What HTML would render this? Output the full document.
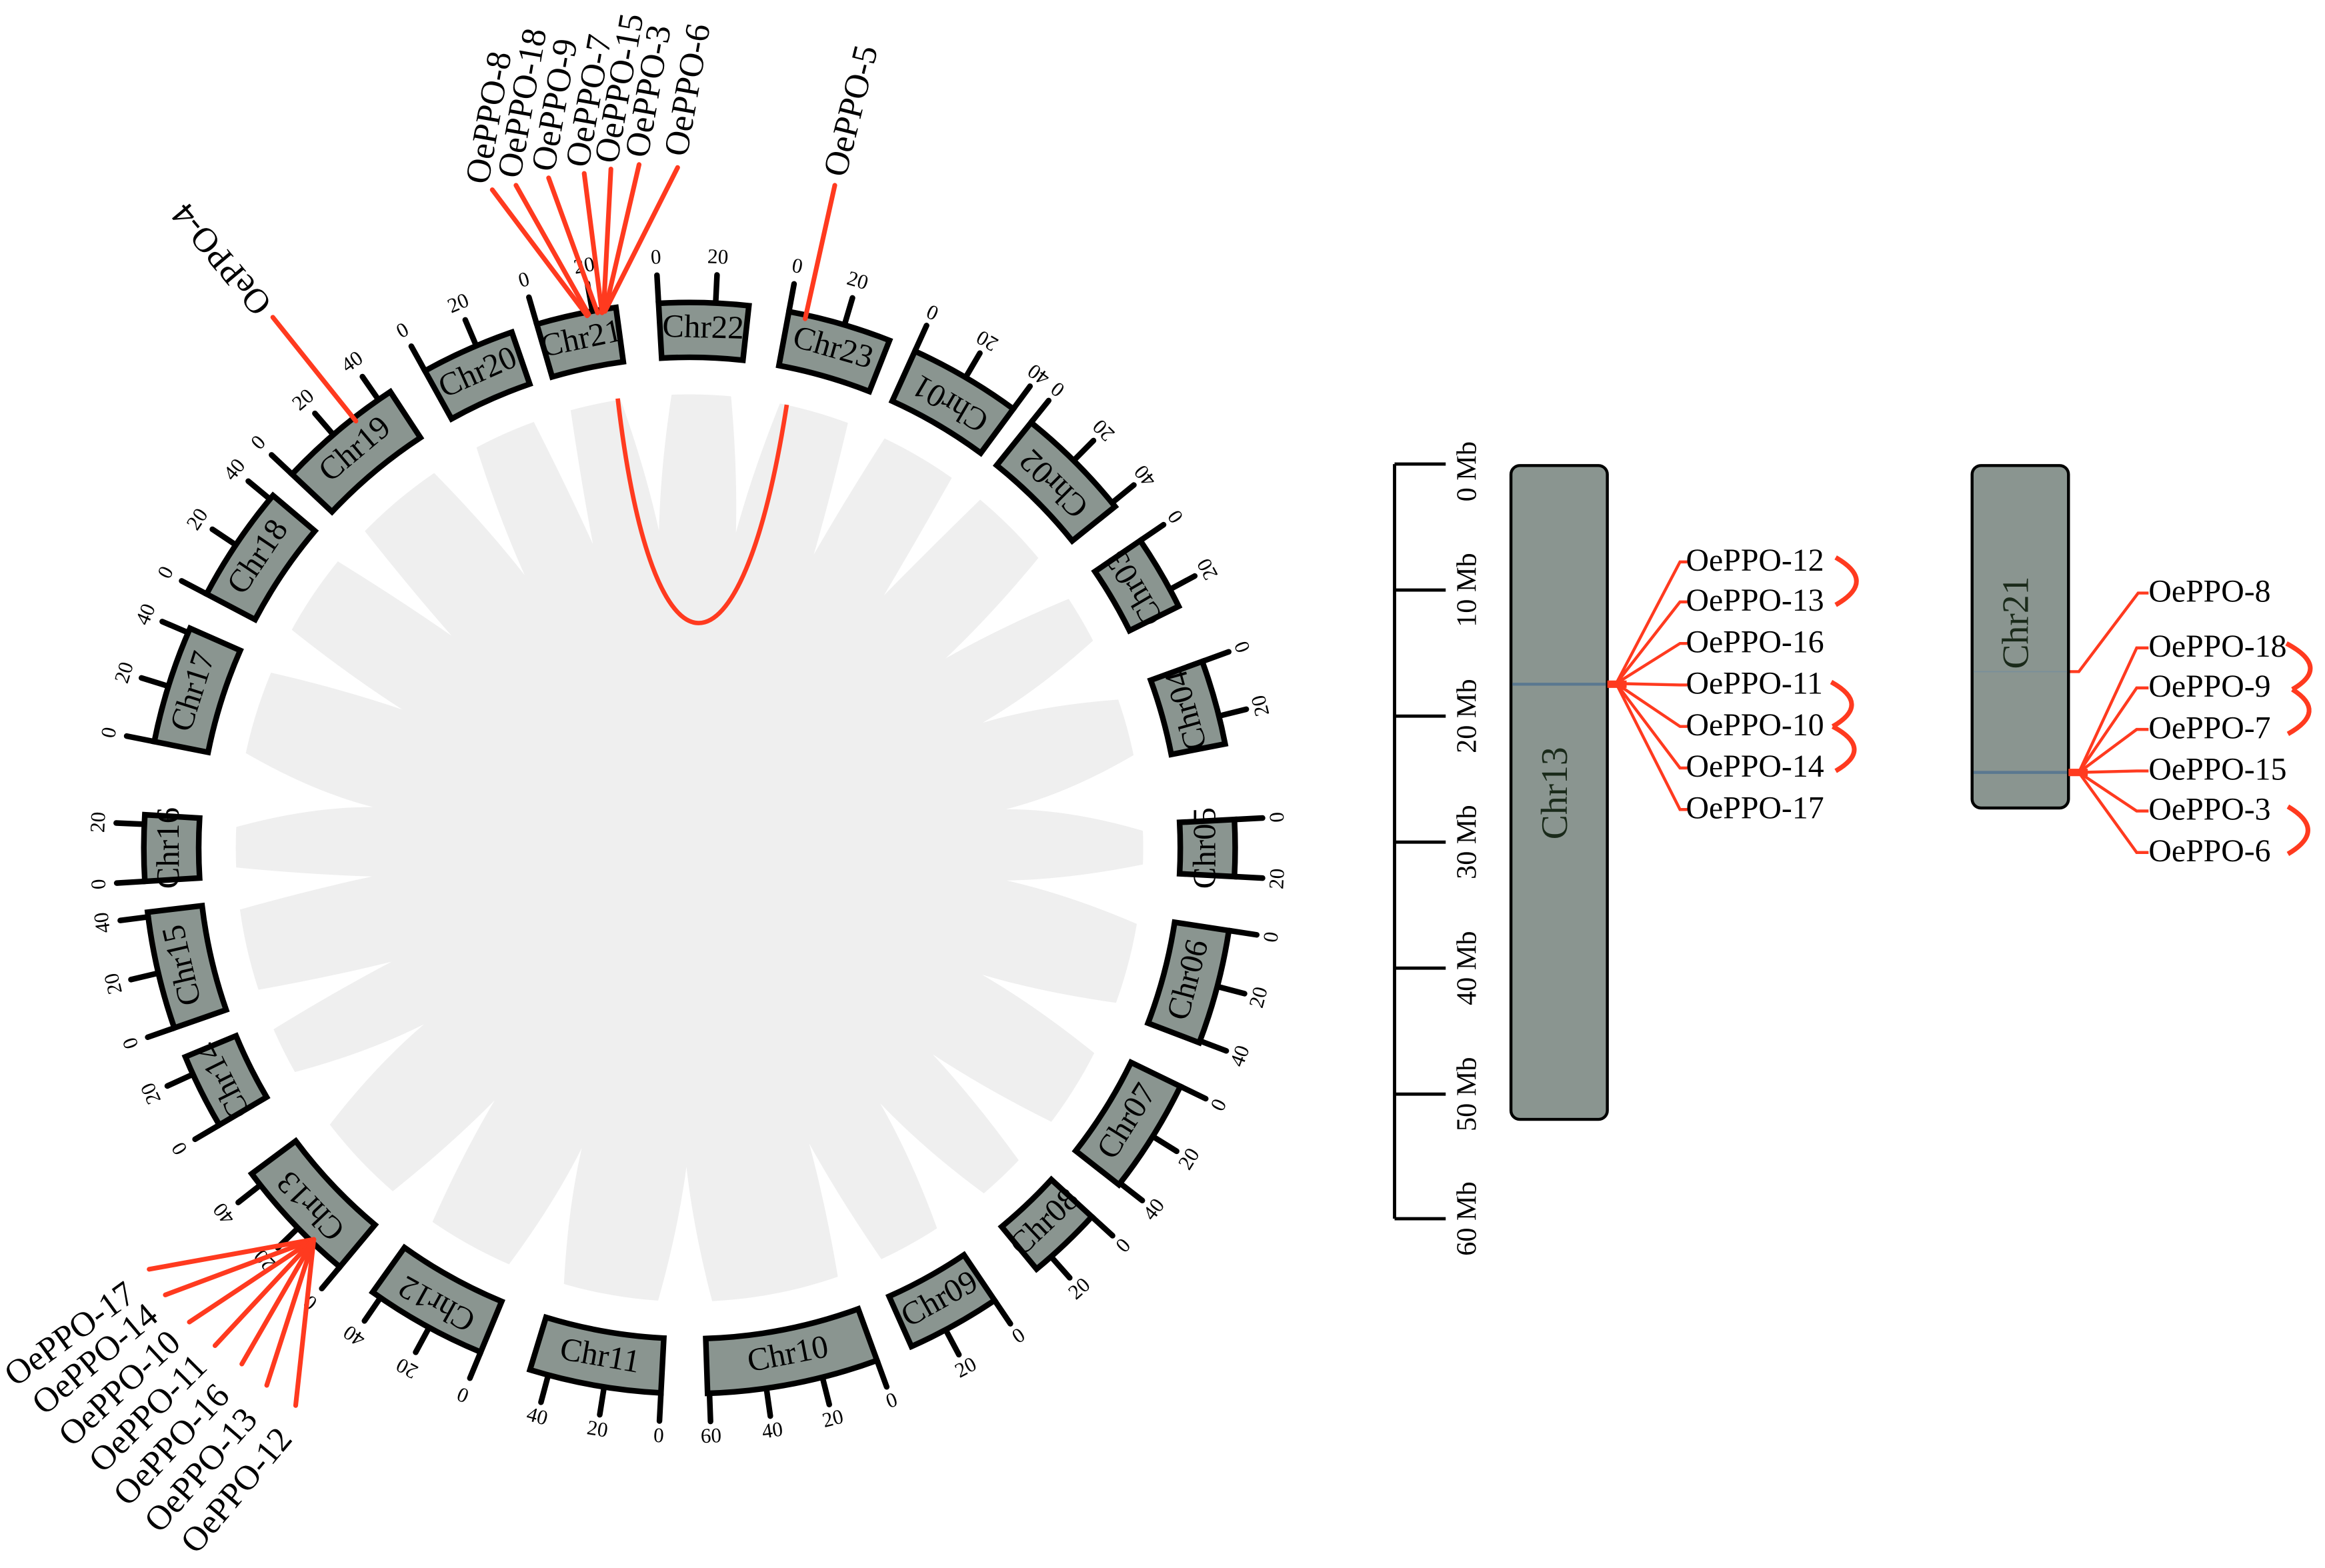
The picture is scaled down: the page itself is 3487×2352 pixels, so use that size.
<!DOCTYPE html>
<html><head><meta charset="utf-8"><style>
html,body{margin:0;padding:0;background:#fff;}
svg{display:block;}
text{font-family:"Liberation Serif",serif;}
</style></head><body>
<svg id="s" xmlns="http://www.w3.org/2000/svg" width="3487" height="2352" viewBox="0 0 1568 1057.6" preserveAspectRatio="none">
<rect x="0" y="0" width="1568" height="1057.6" fill="#fff"/>
<g id="circ"></g>
<path d="M416.6,268.8 C440,470 500,470 530.6,273" fill="none" stroke="#ff3a1f" stroke-width="3"/>
<g id="genes"></g>

<g stroke="#000" stroke-width="2.2" fill="none">
<line x1="940.5" y1="313" x2="940.5" y2="822"/>
<line x1="940.5" y1="313" x2="975" y2="313"/>
<line x1="940.5" y1="398" x2="975" y2="398"/>
<line x1="940.5" y1="483" x2="975" y2="483"/>
<line x1="940.5" y1="568" x2="975" y2="568"/>
<line x1="940.5" y1="653" x2="975" y2="653"/>
<line x1="940.5" y1="738" x2="975" y2="738"/>
<line x1="940.5" y1="822" x2="975" y2="822"/>
</g>
<g font-size="19" text-anchor="middle" dominant-baseline="middle">
<text transform="translate(991,318) rotate(-90)">0 Mb</text>
<text transform="translate(991,398) rotate(-90)">10 Mb</text>
<text transform="translate(991,483) rotate(-90)">20 Mb</text>
<text transform="translate(991,568) rotate(-90)">30 Mb</text>
<text transform="translate(991,653) rotate(-90)">40 Mb</text>
<text transform="translate(991,738) rotate(-90)">50 Mb</text>
<text transform="translate(991,822) rotate(-90)">60 Mb</text>
</g>

<rect x="1019" y="314" width="65" height="441" rx="6" fill="#8a9590" stroke="#000" stroke-width="2"/>
<line x1="1020" y1="461.5" x2="1083" y2="461.5" stroke="#5a7890" stroke-width="2"/>
<text transform="translate(1051,535) rotate(-90)" font-size="25" text-anchor="middle" dominant-baseline="middle" fill="#1a2a1a">Chr13</text>
<g stroke="#ff3a1f" stroke-width="2" fill="none">
<line x1="1084" y1="461.5" x2="1097" y2="461.5" stroke-width="5"/>
<polyline points="1090,461 1133,379 1138,379"/>
<polyline points="1090,461 1133,406 1138,406"/>
<polyline points="1090,461 1133,434 1138,434"/>
<polyline points="1090,461 1133,462 1138,462"/>
<polyline points="1090,461 1133,490 1138,490"/>
<polyline points="1090,461 1133,518 1138,518"/>
<polyline points="1090,461 1133,546 1138,546"/>
<g stroke-width="3.2">
<path d="M1238,376 Q1266,392 1238,408"/>
<path d="M1235,460 Q1262,475 1236,490"/>
<path d="M1236,490 Q1264,505 1238,520"/>
</g>
</g>
<g font-size="21.5" dominant-baseline="middle">
<text x="1137" y="380">OePPO-12</text>
<text x="1137" y="407">OePPO-13</text>
<text x="1137" y="435">OePPO-16</text>
<text x="1137" y="463">OePPO-11</text>
<text x="1137" y="491">OePPO-10</text>
<text x="1137" y="519">OePPO-14</text>
<text x="1137" y="547">OePPO-17</text>
</g>

<rect x="1330" y="314" width="65" height="231" rx="6" fill="#8a9590" stroke="#000" stroke-width="2"/>
<line x1="1331" y1="453" x2="1394" y2="453" stroke="#7a8f9a" stroke-width="0.8"/>
<line x1="1331" y1="521" x2="1394" y2="521" stroke="#5a7890" stroke-width="2"/>
<text transform="translate(1362,420) rotate(-90)" font-size="25" text-anchor="middle" dominant-baseline="middle" fill="#1a2a1a">Chr21</text>
<g stroke="#ff3a1f" stroke-width="2" fill="none">
<polyline points="1396,453 1402,453 1442,400 1449,400"/>
<line x1="1395" y1="521" x2="1408" y2="521" stroke-width="5"/>
<polyline points="1402,521 1441,437 1449,437"/>
<polyline points="1402,521 1441,464 1449,464"/>
<polyline points="1402,521 1441,492 1449,492"/>
<polyline points="1402,521 1441,520 1449,520"/>
<polyline points="1402,521 1441,547 1449,547"/>
<polyline points="1402,521 1441,575 1449,575"/>
<g stroke-width="3.2">
<path d="M1542,434 Q1572,450 1546,465"/>
<path d="M1546,465 Q1570,480 1543,495"/>
<path d="M1543,544 Q1570,560 1543,576"/>
</g>
</g>
<g font-size="21.5" dominant-baseline="middle">
<text x="1449" y="401">OePPO-8</text>
<text x="1449" y="438">OePPO-18</text>
<text x="1449" y="465">OePPO-9</text>
<text x="1449" y="493">OePPO-7</text>
<text x="1449" y="521">OePPO-15</text>
<text x="1449" y="548">OePPO-3</text>
<text x="1449" y="576">OePPO-6</text>
</g>
</svg>
<script>
(function(){
var NS="http://www.w3.org/2000/svg";
var cx=465,cy=572;
function P(r,a){var t=a*Math.PI/180;return [cx+r*Math.sin(t),cy-r*Math.cos(t)];}
function el(tag,attrs,parent,txt){var e=document.createElementNS(NS,tag);for(var k in attrs)e.setAttribute(k,attrs[k]);if(txt!==undefined)e.textContent=txt;parent.appendChild(e);return e;}
function rot(a){if(a<20||a>=200)return a;if(a<160)return a+180;return a-180;}
var chrs=[["Chr22",1.5,9.5],["Chr23",16,11],["Chr01",30.4,12],["Chr02",45,12.5],["Chr03",59.7,8],["Chr04",74.5,9],["Chr05",90,6],["Chr06",104.8,12.2],["Chr07",122,12.2],["Chr08",136.5,8],["Chr09",151,10],["Chr10",169,18.2],["Chr11",190,14],["Chr12",209,13],["Chr13",226.6,13.5],["Chr14",243.5,8],["Chr15",257,12.5],["Chr16",270,7],["Chr17",287.5,12.5],["Chr18",304,12.5],["Chr19",320,13.5],["Chr20",336,10],["Chr21",348,8.5]];
var g=document.getElementById("circ");
el("circle",{cx:cx,cy:cy,r:306,fill:"#efefef"},g);
for(var i=0;i<chrs.length;i++){
  var c=chrs[i],n=chrs[(i+1)%chrs.length];
  var e=c[1]+c[2]/2, s=n[1]-n[2]/2; if(s<e)s+=360;
  var m=(e+s)/2;
  var a=P(312,e-1.2),b=P(312,s+1.2),t=P(215,m),q1=P(260,m-1.2),q2=P(260,m+1.2);
  el("path",{d:"M"+a+" Q"+q1+" "+t+" Q"+q2+" "+b+" Z",fill:"#fff"},g);
}
for(var i=0;i<chrs.length;i++){
  var c=chrs[i],a1=c[1]-c[2]/2,a2=c[1]+c[2]/2,ro=368,ri=331;
  var o1=P(ro,a1),o2=P(ro,a2),i1=P(ri,a1),i2=P(ri,a2);
  var len=c[2]/0.3;
  for(var mb=0;mb<=len+0.01;mb+=20){
    var ang=a1+mb*0.3,p1=P(ro,ang),p2=P(387,ang),pl=P(398,ang);
    el("line",{x1:p1[0],y1:p1[1],x2:p2[0],y2:p2[1],stroke:"#000","stroke-width":3.8,"stroke-linecap":"round"},g);
    el("text",{x:0,y:0,"font-size":14,"text-anchor":"middle","dominant-baseline":"middle",transform:"translate("+pl[0]+","+pl[1]+") rotate("+rot(ang)+")"},g,String(mb));
  }
  el("path",{d:"M"+o1+" A"+ro+","+ro+" 0 0 1 "+o2+" L"+i2+" A"+ri+","+ri+" 0 0 0 "+i1+" Z",fill:"#8a9590",stroke:"#000","stroke-width":3.8,"stroke-linejoin":"miter"},g);
  var lp=P(349.5,c[1]);
  el("text",{x:0,y:0,"font-size":22,"text-anchor":"middle","dominant-baseline":"middle",transform:"translate("+lp[0]+","+lp[1]+") rotate("+rot(c[1])+")"},g,c[0]);
}
var gg=document.getElementById("genes");
var red="#ff3a1f";
function L(x1,y1,x2,y2){el("line",{x1:x1,y1:y1,x2:x2,y2:y2,stroke:red,"stroke-width":3.2,"stroke-linecap":"round"},gg);}
function T(x,y,r,s,anchor){el("text",{x:0,y:0,"font-size":23.5,"text-anchor":anchor||"start","dominant-baseline":"middle",transform:"translate("+x+","+y+") rotate("+r+")"},gg,s);}
var top=[["OePPO-8",332,128,323.9,126,-80,396,213],["OePPO-18",348,125,345.5,122,-80,397,212],["OePPO-9",370,120,368.4,117.5,-80,403,211],["OePPO-7",394,117,391.4,114.7,-80,406,211],["OePPO-15",412,114,410.9,112,-80,407,210],["OePPO-3",431,111,431.5,108.2,-80,408,210],["OePPO-6",457,113,457.9,107.3,-80,408,210]];
top.forEach(function(d){L(d[6],d[7],d[1],d[2]);T(d[3],d[4]-2,d[5],d[0]);});
L(543,215,563,125);T(565,119,-76,"OePPO-5");
L(240,284,184,214);T(180,208,-130,"OePPO-4");
var bot=[["OePPO-17",100.6,856.1,89.5,871.6,-36],["OePPO-14",111.5,873.4,104.4,885.6,-40],["OePPO-10",127.7,891.7,119.3,903.3,-43],["OePPO-11",145,907.6,137,919.1,-45],["OePPO-16",163.1,920,151.9,938.7,-47],["OePPO-13",179.9,934.4,170.5,954.5,-49],["OePPO-12",199.4,948,193.8,967.6,-50]];
bot.forEach(function(d){L(211.6,836,d[1],d[2]);T(d[3],d[4],d[5],d[0],"end");});
})();
</script>
</body></html>
